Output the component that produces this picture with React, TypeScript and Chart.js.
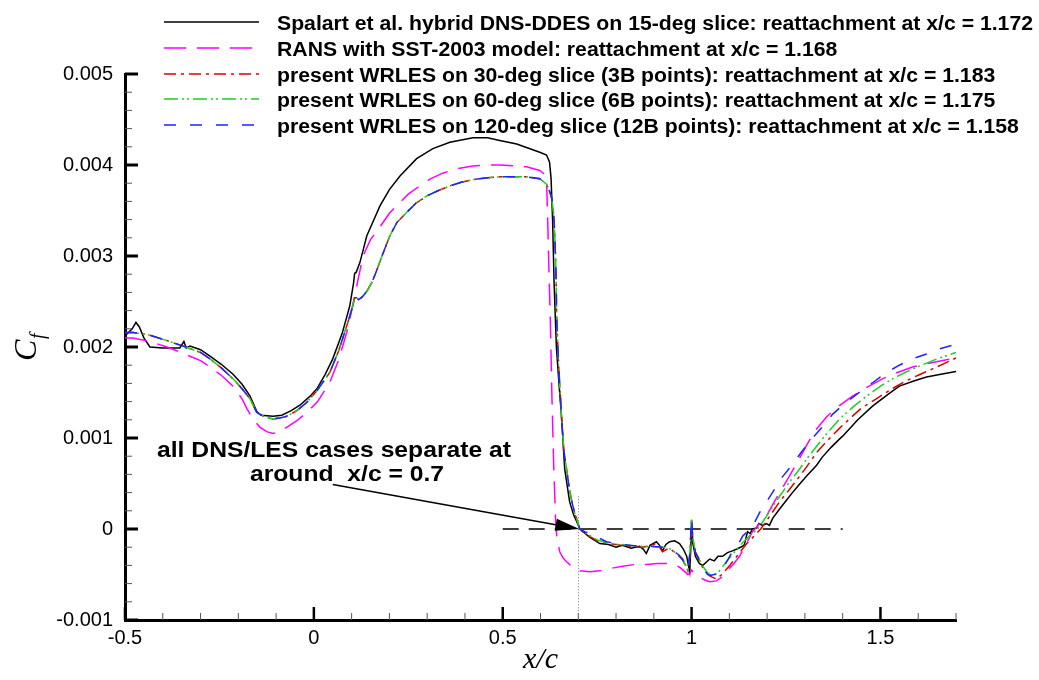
import React, { useEffect, useRef } from "react";
import { Chart, registerables } from "chart.js";

Chart.register(...registerables);

// ---------- DATA ----------
const spalartX = [-0.5, -0.481, -0.471, -0.462, -0.45, -0.434, -0.4, -0.355, -0.344, -0.338, -0.328, -0.3, -0.275, -0.245, -0.214, -0.19, -0.169, -0.151, -0.14, -0.108, -0.085, -0.06, -0.037, -0.01, 0.008, 0.03, 0.05, 0.075, 0.095, 0.105, 0.108, 0.112, 0.122, 0.14, 0.175, 0.2, 0.228, 0.272, 0.315, 0.36, 0.421, 0.46, 0.492, 0.537, 0.598, 0.616, 0.624, 0.628, 0.632, 0.636, 0.642, 0.648, 0.656, 0.664, 0.677, 0.688, 0.696, 0.704, 0.73, 0.757, 0.78, 0.8, 0.817, 0.84, 0.862, 0.872, 0.88, 0.89, 0.907, 0.915, 0.923, 0.932, 0.942, 0.955, 0.968, 0.978, 0.987, 0.995, 0.998, 1.0, 1.003, 1.01, 1.021, 1.03, 1.04, 1.048, 1.06, 1.07, 1.082, 1.095, 1.108, 1.12, 1.135, 1.14, 1.148, 1.155, 1.161, 1.172, 1.178, 1.188, 1.198, 1.206, 1.215, 1.233, 1.25, 1.267, 1.285, 1.304, 1.331, 1.346, 1.37, 1.392, 1.4, 1.44, 1.479, 1.52, 1.55, 1.59, 1.622, 1.66, 1.7];
const spalartCf = [0.00212, 0.0022, 0.00227, 0.00222, 0.0021, 0.002, 0.00199, 0.00199, 0.00206, 0.00199, 0.00201, 0.00197, 0.0019, 0.00181, 0.0017, 0.00159, 0.00146, 0.00129, 0.00125, 0.00124, 0.00125, 0.0013, 0.00136, 0.00146, 0.00154, 0.0017, 0.00187, 0.00215, 0.00245, 0.0027, 0.00281, 0.00282, 0.00293, 0.00322, 0.00355, 0.00373, 0.00388, 0.00407, 0.00418, 0.00425, 0.0043, 0.0043, 0.00427, 0.00423, 0.00414, 0.00411, 0.00403, 0.00385, 0.0034, 0.0027, 0.002, 0.00165, 0.00121, 0.00066, 0.0003, 0.00015, 0.00008, 0.0, -0.00009, -0.00016, -0.00017, -0.0002, -0.00018, -0.00021, -0.00019, -0.00022, -0.00027, -0.00018, -0.00014, -0.00018, -0.00024, -0.00017, -0.00014, -0.00013, -0.00016, -0.00022, -0.0003, -0.00047, -0.0002, 0.00009, -0.00015, -0.0003, -0.00038, -0.0004, -0.00036, -0.00033, -0.00035, -0.0003, -0.0003, -0.00026, -0.00024, -0.00022, -0.00019, -0.00017, -0.00003, -0.00005, 0.0, 0.00001, 0.00006, 0.00004, 0.00006, 0.00004, 0.00012, 0.00022, 0.00031, 0.0004, 0.00049, 0.00058, 0.0007, 0.00079, 0.0009, 0.00099, 0.00102, 0.0012, 0.00135, 0.00148, 0.00157, 0.00163, 0.00167, 0.0017, 0.00173];

const ransX = [-0.5, -0.479, -0.434, -0.389, -0.346, -0.3, -0.275, -0.245, -0.214, -0.19, -0.177, -0.16, -0.143, -0.125, -0.108, -0.09, -0.071, -0.045, -0.019, 0.01, 0.042, 0.065, 0.087, 0.1, 0.108, 0.13, 0.15, 0.175, 0.2, 0.228, 0.25, 0.28, 0.31, 0.341, 0.38, 0.421, 0.46, 0.492, 0.53, 0.563, 0.598, 0.61, 0.616, 0.619, 0.622, 0.626, 0.63, 0.635, 0.64, 0.643, 0.651, 0.66, 0.669, 0.685, 0.704, 0.73, 0.757, 0.79, 0.817, 0.85, 0.88, 0.91, 0.934, 0.955, 0.968, 0.98, 0.99, 0.995, 1.0, 1.005, 1.021, 1.035, 1.048, 1.066, 1.08, 1.092, 1.11, 1.127, 1.145, 1.161, 1.168, 1.18, 1.198, 1.215, 1.233, 1.259, 1.286, 1.31, 1.331, 1.357, 1.383, 1.426, 1.465, 1.505, 1.545, 1.585, 1.638, 1.7];
const ransCf = [0.0021, 0.0021, 0.00206, 0.002, 0.00193, 0.00185, 0.00178, 0.00169, 0.00157, 0.00143, 0.00132, 0.0012, 0.00112, 0.00107, 0.00105, 0.00107, 0.00112, 0.00119, 0.00128, 0.0014, 0.00161, 0.00185, 0.00216, 0.0024, 0.00256, 0.003, 0.00318, 0.00332, 0.00347, 0.00359, 0.00368, 0.00377, 0.00385, 0.00391, 0.00396, 0.00399, 0.004, 0.004, 0.00399, 0.00398, 0.00394, 0.0039, 0.00384, 0.0034, 0.0029, 0.0023, 0.0015, 0.0007, 0.0001, -0.00008, -0.00025, -0.00032, -0.00036, -0.00042, -0.00046, -0.00047, -0.00046, -0.00043, -0.00041, -0.00039, -0.00039, -0.00038, -0.00038, -0.00039, -0.00042, -0.00046, -0.0005, -0.00049, -0.00045, -0.00048, -0.00053, -0.00056, -0.00058, -0.00057, -0.00053, -0.00047, -0.00039, -0.0003, -0.00016, -0.00003, 0.0, 0.00006, 0.00014, 0.00027, 0.0004, 0.00058, 0.00078, 0.00096, 0.0011, 0.00123, 0.00133, 0.00146, 0.00156, 0.00165, 0.00172, 0.00178, 0.00183, 0.00188];

// WRLES curves share the same attached-flow part (identical at plot resolution)
const lesUpstreamX = [-0.5, -0.479, -0.434, -0.389, -0.346, -0.3, -0.275, -0.245, -0.214, -0.19, -0.169, -0.151, -0.13, -0.108, -0.09, -0.071, -0.045, -0.019, 0.01, 0.042, 0.065, 0.087, 0.103, 0.108, 0.113, 0.118, 0.128, 0.14, 0.155, 0.167, 0.185, 0.201, 0.22, 0.246, 0.27, 0.299, 0.33, 0.36, 0.39, 0.421, 0.46, 0.492, 0.53, 0.563, 0.598, 0.616, 0.625, 0.63, 0.635, 0.638, 0.641, 0.643, 0.648, 0.656, 0.662, 0.669, 0.676, 0.683, 0.69, 0.696];
const lesUpstreamCf = [0.00216, 0.00216, 0.00213, 0.00207, 0.00201, 0.00194, 0.00187, 0.00177, 0.00165, 0.00154, 0.00143, 0.00128, 0.00123, 0.00121, 0.00122, 0.00124, 0.0013, 0.00139, 0.00153, 0.00172, 0.00195, 0.00223, 0.00245, 0.00254, 0.00254, 0.00252, 0.00255, 0.00261, 0.00272, 0.00285, 0.00305, 0.00322, 0.00337, 0.00348, 0.00358, 0.00366, 0.00372, 0.00377, 0.00381, 0.00384, 0.00386, 0.00387, 0.00387, 0.00387, 0.00385, 0.00379, 0.0037, 0.00363, 0.00345, 0.00322, 0.0028, 0.0023, 0.0018, 0.00121, 0.00085, 0.00066, 0.00045, 0.0003, 0.00018, 0.00011];

const les30X = [0.704, 0.717, 0.73, 0.75, 0.775, 0.8, 0.817, 0.84, 0.862, 0.89, 0.905, 0.915, 0.923, 0.94, 0.95, 0.965, 0.976, 0.985, 0.99, 0.995, 1.0, 1.003, 1.01, 1.021, 1.03, 1.04, 1.05, 1.066, 1.08, 1.101, 1.12, 1.146, 1.165, 1.183, 1.2, 1.233, 1.26, 1.286, 1.304, 1.331, 1.357, 1.39, 1.418, 1.45, 1.489, 1.53, 1.569, 1.6, 1.638, 1.67, 1.7];
const les30Cf = [0.0, -0.00005, -0.00008, -0.00013, -0.00016, -0.00017, -0.00018, -0.00019, -0.0002, -0.00019, -0.00016, -0.0002, -0.00025, -0.00021, -0.00024, -0.00029, -0.00034, -0.00041, -0.00046, -0.0003, 0.0001, -0.0001, -0.00026, -0.00035, -0.00043, -0.00048, -0.00052, -0.00055, -0.0005, -0.0004, -0.0003, -0.00016, -0.00008, 0.0, 0.0001, 0.0003, 0.00044, 0.00058, 0.00068, 0.00084, 0.00096, 0.0011, 0.00121, 0.00133, 0.00143, 0.00154, 0.00163, 0.00169, 0.00176, 0.00182, 0.00188];

const les60X = [0.704, 0.717, 0.73, 0.75, 0.775, 0.8, 0.817, 0.84, 0.862, 0.89, 0.923, 0.94, 0.95, 0.965, 0.976, 0.985, 0.99, 0.995, 1.0, 1.003, 1.01, 1.021, 1.03, 1.04, 1.048, 1.056, 1.07, 1.092, 1.11, 1.135, 1.155, 1.175, 1.2, 1.233, 1.26, 1.286, 1.31, 1.331, 1.36, 1.392, 1.43, 1.463, 1.5, 1.532, 1.57, 1.603, 1.65, 1.7];
const les60Cf = [0.0, -0.00004, -0.00007, -0.00012, -0.00015, -0.00017, -0.00017, -0.00018, -0.00019, -0.00019, -0.0002, -0.00021, -0.00024, -0.00028, -0.00033, -0.0004, -0.00045, -0.0003, 0.0001, -0.0001, -0.00025, -0.00034, -0.00041, -0.00047, -0.0005, -0.00052, -0.00048, -0.00036, -0.00027, -0.00015, -0.00007, 0.0, 0.00015, 0.00036, 0.00052, 0.00066, 0.0008, 0.00091, 0.00106, 0.00121, 0.00135, 0.00146, 0.00157, 0.00165, 0.00173, 0.00179, 0.00187, 0.00194];

const les120X = [0.704, 0.717, 0.73, 0.745, 0.76, 0.775, 0.8, 0.817, 0.84, 0.862, 0.89, 0.923, 0.94, 0.95, 0.965, 0.976, 0.985, 0.99, 0.995, 1.0, 1.003, 1.01, 1.021, 1.03, 1.042, 1.048, 1.06, 1.074, 1.09, 1.108, 1.127, 1.135, 1.145, 1.158, 1.18, 1.214, 1.24, 1.267, 1.29, 1.312, 1.346, 1.373, 1.4, 1.437, 1.48, 1.516, 1.55, 1.585, 1.62, 1.656, 1.7];
const les120Cf = [0.0, -0.00003, -0.00005, -0.00007, -0.00011, -0.00014, -0.00016, -0.00017, -0.00018, -0.00019, -0.00019, -0.0002, -0.00022, -0.00024, -0.00028, -0.00033, -0.0004, -0.00045, -0.00028, 0.00012, -0.0001, -0.00025, -0.00034, -0.00042, -0.0005, -0.00051, -0.0005, -0.00047, -0.00038, -0.00025, -0.00014, -0.00008, -0.00004, 0.0, 0.00018, 0.0004, 0.00057, 0.00071, 0.00084, 0.00096, 0.00112, 0.00126, 0.00136, 0.00148, 0.00161, 0.00172, 0.0018, 0.00187, 0.00192, 0.00198, 0.00203];

const xTickValues = [-0.5, 0, 0.5, 1, 1.5];
const yTickValues = [-0.001, 0, 0.001, 0.002, 0.003, 0.004, 0.005];

const legendLabels = [
  "Spalart et al. hybrid DNS-DDES on 15-deg slice: reattachment at x/c = 1.172",
  "RANS with SST-2003 model: reattachment at x/c = 1.168",
  "present WRLES on 30-deg slice (3B points): reattachment at x/c = 1.183",
  "present WRLES on 60-deg slice (6B points): reattachment at x/c = 1.175",
  "present WRLES on 120-deg slice (12B points): reattachment at x/c = 1.158",
];
const seriesColors = ["#000000", "#ff00ff", "#dd0000", "#22cc22", "#2222ff"];
const seriesDashes: number[][] = [[], [22, 11], [12, 5, 3, 5], [14, 4, 2, 3, 2, 4], [12, 14]];

const annotationLines = ["all DNS/LES cases separate at", "around  x/c = 0.7"];
const arrowFrom = { x: 0.05, y: 0.00049 };
const arrowTo = { x: 0.703, y: 0.0 };
const zeroLineRange = [0.5, 1.4];
const separationX = 0.7;
const separationTopCf = 0.00036;

function pairs(xs: number[], ys: number[]) {
  return xs.map((x, i) => ({ x, y: ys[i] }));
}

const FONT_SANS = '"Liberation Sans", Arial, Helvetica, sans-serif';
const FONT_SERIF = '"Liberation Serif", "Times New Roman", serif';

// draw text with a horizontal stretch factor
function stretchText(ctx: CanvasRenderingContext2D, text: string, x: number, y: number, s: number, align: "left" | "center") {
  const w = ctx.measureText(text).width * s;
  ctx.save();
  ctx.textAlign = "left";
  const left = align === "center" ? x - w / 2 : x;
  ctx.translate(left, y);
  ctx.scale(s, 1);
  ctx.fillText(text, 0, 0);
  ctx.restore();
}

const overlayPlugin = {
  id: "overlay",
  beforeDatasetsDraw(chart: any) {
    const { ctx, scales } = chart;
    const x = scales.x, y = scales.y;
    ctx.save();
    ctx.strokeStyle = "#000";
    ctx.lineWidth = 1.3;
    ctx.setLineDash([16, 10]);
    ctx.beginPath();
    ctx.moveTo(x.getPixelForValue(zeroLineRange[0]), y.getPixelForValue(0));
    ctx.lineTo(x.getPixelForValue(zeroLineRange[1]), y.getPixelForValue(0));
    ctx.stroke();
    ctx.strokeStyle = "#777";
    ctx.lineWidth = 1;
    ctx.setLineDash([1, 2]);
    const sx = Math.round(x.getPixelForValue(separationX)) + 0.5;
    ctx.beginPath();
    ctx.moveTo(sx, y.getPixelForValue(separationTopCf));
    ctx.lineTo(sx, y.getPixelForValue(-0.001));
    ctx.stroke();
    ctx.restore();
  },
  afterDraw(chart: any) {
    const { ctx, scales, chartArea } = chart;
    const x = scales.x, y = scales.y;
    ctx.save();
    ctx.setLineDash([]);
    // x ticks (inward)
    for (let i = -5; i <= 17; i++) {
      const v = i / 10;
      const px = x.getPixelForValue(v);
      const major = i % 5 === 0;
      ctx.strokeStyle = major ? "#000" : "#555";
      ctx.lineWidth = major ? 2.5 : 1;
      ctx.beginPath();
      ctx.moveTo(px, chartArea.bottom);
      ctx.lineTo(px, chartArea.bottom - (major ? 13 : 7));
      ctx.stroke();
    }
    // y ticks (inward)
    for (let i = -5; i <= 25; i++) {
      const v = i * 0.0002;
      const py = y.getPixelForValue(v);
      const major = i % 5 === 0;
      ctx.strokeStyle = major ? "#000" : "#555";
      ctx.lineWidth = major ? 3 : 1;
      ctx.beginPath();
      ctx.moveTo(chartArea.left, py);
      ctx.lineTo(chartArea.left + (major ? 13 : 7), py);
      ctx.stroke();
    }
    // arrow
    const ax0 = x.getPixelForValue(arrowFrom.x), ay0 = y.getPixelForValue(arrowFrom.y);
    const ax1 = x.getPixelForValue(arrowTo.x), ay1 = y.getPixelForValue(arrowTo.y);
    const ang = Math.atan2(ay1 - ay0, ax1 - ax0);
    const headLen = 24, headHalf = 6;
    const bx = ax1 - headLen * Math.cos(ang), by = ay1 - headLen * Math.sin(ang);
    ctx.strokeStyle = "#000";
    ctx.lineWidth = 1.5;
    ctx.beginPath();
    ctx.moveTo(ax0, ay0);
    ctx.lineTo(bx, by);
    ctx.stroke();
    ctx.fillStyle = "#000";
    ctx.beginPath();
    ctx.moveTo(ax1, ay1);
    ctx.lineTo(bx + headHalf * Math.sin(ang), by - headHalf * Math.cos(ang));
    ctx.lineTo(bx - headHalf * Math.sin(ang), by + headHalf * Math.cos(ang));
    ctx.closePath();
    ctx.fill();
    // annotation text (uniform stretch from first line width)
    ctx.font = `bold 22px ${FONT_SANS}`;
    ctx.textBaseline = "alphabetic";
    const sAnn = 354 / ctx.measureText(annotationLines[0]).width;
    stretchText(ctx, annotationLines[0], 334, 457, sAnn, "center");
    stretchText(ctx, annotationLines[1], 347, 481, sAnn, "center");
    // legend (uniform stretch from first row width)
    const rowsY = [22, 48, 74, 99, 125];
    ctx.font = `bold 20px ${FONT_SANS}`;
    ctx.textBaseline = "alphabetic";
    const sLeg = 756 / ctx.measureText(legendLabels[0]).width;
    for (let i = 0; i < legendLabels.length; i++) {
      ctx.strokeStyle = seriesColors[i];
      ctx.lineWidth = 1.5;
      ctx.setLineDash(seriesDashes[i]);
      ctx.beginPath();
      ctx.moveTo(164, rowsY[i]);
      ctx.lineTo(259, rowsY[i]);
      ctx.stroke();
      ctx.setLineDash([]);
      ctx.fillStyle = "#000";
      stretchText(ctx, legendLabels[i], 277, rowsY[i] + 7.5, sLeg, "left");
    }
    // axis titles
    ctx.fillStyle = "#000";
    ctx.save();
    ctx.translate(36, 361);
    ctx.rotate(-Math.PI / 2);
    ctx.textAlign = "left";
    ctx.textBaseline = "alphabetic";
    ctx.font = `italic 32px ${FONT_SERIF}`;
    ctx.fillText("C", 0, 0);
    ctx.font = `italic 20px ${FONT_SERIF}`;
    ctx.fillText("f", 22, 8);
    ctx.restore();
    ctx.font = `italic 30px ${FONT_SERIF}`;
    ctx.textAlign = "center";
    ctx.textBaseline = "alphabetic";
    ctx.fillText("x/c", (chartArea.left + chartArea.right) / 2, 668);
    ctx.restore();
  },
};

export default function App() {
  const canvasRef = useRef<HTMLCanvasElement | null>(null);

  useEffect(() => {
    document.body.style.margin = "0";
    const canvas = canvasRef.current;
    if (!canvas) return;
    const series = [
      { label: legendLabels[0], data: pairs(spalartX, spalartCf), order: 4 },
      { label: legendLabels[1], data: pairs(ransX, ransCf), order: 3 },
      { label: legendLabels[2], data: pairs(lesUpstreamX.concat(les30X), lesUpstreamCf.concat(les30Cf)), order: 2 },
      { label: legendLabels[3], data: pairs(lesUpstreamX.concat(les60X), lesUpstreamCf.concat(les60Cf)), order: 1 },
      { label: legendLabels[4], data: pairs(lesUpstreamX.concat(les120X), lesUpstreamCf.concat(les120Cf)), order: 0 },
    ];
    const chart = new Chart(canvas, {
      type: "line",
      data: {
        datasets: series.map((s, i) => ({
          ...s,
          borderColor: seriesColors[i],
          backgroundColor: seriesColors[i],
          borderWidth: 1.5,
          borderDash: seriesDashes[i],
          pointRadius: 0,
          fill: false,
          tension: 0,
        })),
      },
      options: {
        animation: false,
        responsive: false,
        devicePixelRatio: 1,
        layout: { padding: { left: 0, top: 74, right: 83, bottom: 0 } },
        plugins: { legend: { display: false }, tooltip: { enabled: false } },
        scales: {
          x: {
            type: "linear",
            min: -0.5,
            max: 1.7,
            afterBuildTicks: (scale: any) => {
              scale.ticks = xTickValues.map((v) => ({ value: v }));
            },
            afterFit: (scale: any) => {
              scale.height = 60;
            },
            grid: { display: false, drawTicks: false },
            border: { display: true, color: "#000", width: 3 },
            ticks: {
              color: "#000",
              font: { family: FONT_SANS, size: 20 },
              padding: 6,
              maxRotation: 0,
              autoSkip: false,
              callback: (v: any) => String(Number(Number(v).toFixed(2))),
            },
          },
          y: {
            type: "linear",
            min: -0.001,
            max: 0.005,
            afterBuildTicks: (scale: any) => {
              scale.ticks = yTickValues.map((v) => ({ value: v }));
            },
            afterFit: (scale: any) => {
              scale.width = 125;
            },
            grid: { display: false, drawTicks: false },
            border: { display: true, color: "#000", width: 3 },
            ticks: {
              color: "#000",
              font: { family: FONT_SANS, size: 20 },
              padding: 12,
              autoSkip: false,
              callback: (v: any) => String(Number(Number(v).toFixed(4))),
            },
          },
        },
      },
      plugins: [overlayPlugin],
    } as any);
    return () => chart.destroy();
  }, []);

  return (
    <div style={{ width: 1039, height: 680, position: "relative", overflow: "hidden", background: "#fff" }}>
      <canvas ref={canvasRef} width={1039} height={680} style={{ display: "block" }} />
    </div>
  );
}
